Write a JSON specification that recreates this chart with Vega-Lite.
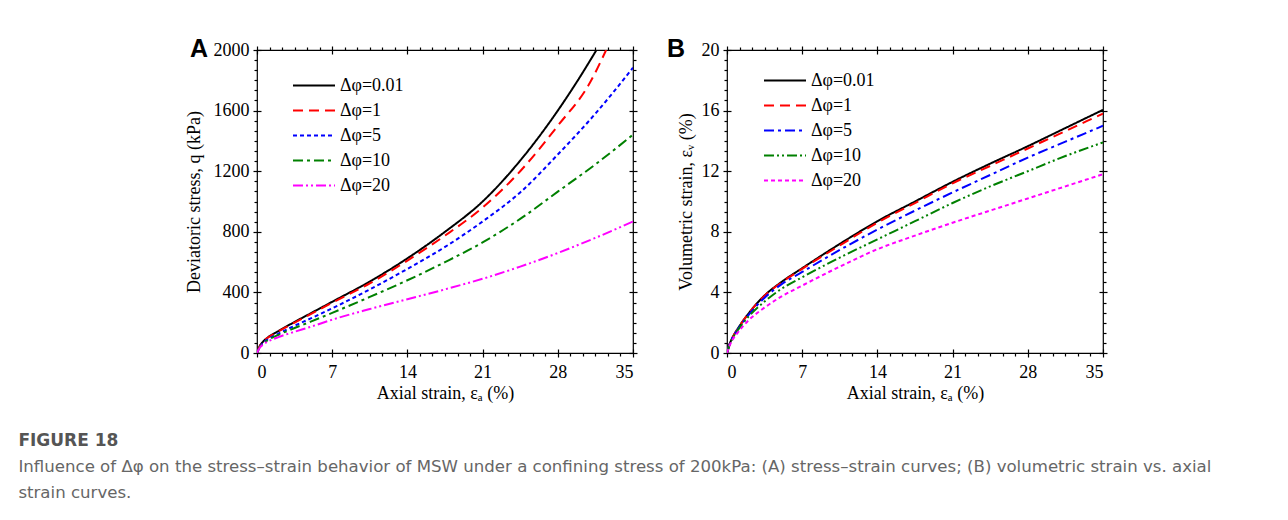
{
  "$schema": "https://vega.github.io/schema/vega-lite/v6.json",
  "background": "white",
  "padding": {"left": 18, "top": 36, "right": 5, "bottom": 5},
  "datasets": {
    "A": [
      {"x": 0, "y": 0, "s": "Δφ=0.01"}, {"x": 0.25, "y": 45, "s": "Δφ=0.01"}, {"x": 0.5, "y": 70, "s": "Δφ=0.01"}, {"x": 1, "y": 102, "s": "Δφ=0.01"}, {"x": 2, "y": 145, "s": "Δφ=0.01"}, {"x": 3.5, "y": 205, "s": "Δφ=0.01"}, {"x": 5, "y": 262, "s": "Δφ=0.01"}, {"x": 7, "y": 338, "s": "Δφ=0.01"}, {"x": 10.5, "y": 472, "s": "Δφ=0.01"}, {"x": 14, "y": 625, "s": "Δφ=0.01"}, {"x": 17.5, "y": 800, "s": "Δφ=0.01"}, {"x": 21, "y": 1000, "s": "Δφ=0.01"}, {"x": 24.5, "y": 1270, "s": "Δφ=0.01"}, {"x": 28, "y": 1600, "s": "Δφ=0.01"}, {"x": 30, "y": 1815, "s": "Δφ=0.01"}, {"x": 31.6, "y": 2000, "s": "Δφ=0.01"},
      {"x": 0, "y": 0, "s": "Δφ=1"}, {"x": 0.25, "y": 45, "s": "Δφ=1"}, {"x": 0.5, "y": 70, "s": "Δφ=1"}, {"x": 1, "y": 101, "s": "Δφ=1"}, {"x": 2, "y": 143, "s": "Δφ=1"}, {"x": 3.5, "y": 201, "s": "Δφ=1"}, {"x": 5, "y": 257, "s": "Δφ=1"}, {"x": 7, "y": 332, "s": "Δφ=1"}, {"x": 10.5, "y": 460, "s": "Δφ=1"}, {"x": 14, "y": 610, "s": "Δφ=1"}, {"x": 17.5, "y": 775, "s": "Δφ=1"}, {"x": 21, "y": 960, "s": "Δφ=1"}, {"x": 24.5, "y": 1200, "s": "Δφ=1"}, {"x": 28, "y": 1500, "s": "Δφ=1"}, {"x": 31, "y": 1785, "s": "Δφ=1"}, {"x": 32.5, "y": 2000, "s": "Δφ=1"},
      {"x": 0, "y": 0, "s": "Δφ=5"}, {"x": 0.25, "y": 40, "s": "Δφ=5"}, {"x": 0.5, "y": 62, "s": "Δφ=5"}, {"x": 1, "y": 90, "s": "Δφ=5"}, {"x": 2, "y": 128, "s": "Δφ=5"}, {"x": 3.5, "y": 180, "s": "Δφ=5"}, {"x": 5, "y": 228, "s": "Δφ=5"}, {"x": 7, "y": 295, "s": "Δφ=5"}, {"x": 10.5, "y": 420, "s": "Δφ=5"}, {"x": 14, "y": 555, "s": "Δφ=5"}, {"x": 17.5, "y": 700, "s": "Δφ=5"}, {"x": 21, "y": 868, "s": "Δφ=5"}, {"x": 24.5, "y": 1060, "s": "Δφ=5"}, {"x": 28, "y": 1310, "s": "Δφ=5"}, {"x": 31.5, "y": 1580, "s": "Δφ=5"}, {"x": 35, "y": 1883, "s": "Δφ=5"},
      {"x": 0, "y": 0, "s": "Δφ=10"}, {"x": 0.25, "y": 38, "s": "Δφ=10"}, {"x": 0.5, "y": 58, "s": "Δφ=10"}, {"x": 1, "y": 85, "s": "Δφ=10"}, {"x": 2, "y": 120, "s": "Δφ=10"}, {"x": 3.5, "y": 165, "s": "Δφ=10"}, {"x": 5, "y": 207, "s": "Δφ=10"}, {"x": 7, "y": 265, "s": "Δφ=10"}, {"x": 10.5, "y": 370, "s": "Δφ=10"}, {"x": 14, "y": 480, "s": "Δφ=10"}, {"x": 17.5, "y": 600, "s": "Δφ=10"}, {"x": 21, "y": 730, "s": "Δφ=10"}, {"x": 24.5, "y": 885, "s": "Δφ=10"}, {"x": 28, "y": 1065, "s": "Δφ=10"}, {"x": 31.5, "y": 1245, "s": "Δφ=10"}, {"x": 35, "y": 1441, "s": "Δφ=10"},
      {"x": 0, "y": 0, "s": "Δφ=20"}, {"x": 0.25, "y": 35, "s": "Δφ=20"}, {"x": 0.5, "y": 52, "s": "Δφ=20"}, {"x": 1, "y": 75, "s": "Δφ=20"}, {"x": 2, "y": 105, "s": "Δφ=20"}, {"x": 3.5, "y": 140, "s": "Δφ=20"}, {"x": 5, "y": 173, "s": "Δφ=20"}, {"x": 7, "y": 220, "s": "Δφ=20"}, {"x": 10.5, "y": 290, "s": "Δφ=20"}, {"x": 14, "y": 355, "s": "Δφ=20"}, {"x": 17.5, "y": 420, "s": "Δφ=20"}, {"x": 21, "y": 490, "s": "Δφ=20"}, {"x": 24.5, "y": 570, "s": "Δφ=20"}, {"x": 28, "y": 660, "s": "Δφ=20"}, {"x": 31.5, "y": 760, "s": "Δφ=20"}, {"x": 35, "y": 868, "s": "Δφ=20"}
    ],
    "B": [
      {"x": 0, "y": 0, "s": "Δφ=0.01"}, {"x": 0.25, "y": 0.6, "s": "Δφ=0.01"}, {"x": 0.5, "y": 1.0, "s": "Δφ=0.01"}, {"x": 1, "y": 1.6, "s": "Δφ=0.01"}, {"x": 2, "y": 2.6, "s": "Δφ=0.01"}, {"x": 3.5, "y": 3.8, "s": "Δφ=0.01"}, {"x": 5, "y": 4.65, "s": "Δφ=0.01"}, {"x": 7, "y": 5.6, "s": "Δφ=0.01"}, {"x": 10.5, "y": 7.2, "s": "Δφ=0.01"}, {"x": 14, "y": 8.7, "s": "Δφ=0.01"}, {"x": 17.5, "y": 10.0, "s": "Δφ=0.01"}, {"x": 21, "y": 11.3, "s": "Δφ=0.01"}, {"x": 24.5, "y": 12.5, "s": "Δφ=0.01"}, {"x": 28, "y": 13.65, "s": "Δφ=0.01"}, {"x": 31.5, "y": 14.85, "s": "Δφ=0.01"}, {"x": 35, "y": 16.05, "s": "Δφ=0.01"},
      {"x": 0, "y": 0, "s": "Δφ=1"}, {"x": 0.25, "y": 0.6, "s": "Δφ=1"}, {"x": 0.5, "y": 1.0, "s": "Δφ=1"}, {"x": 1, "y": 1.6, "s": "Δφ=1"}, {"x": 2, "y": 2.6, "s": "Δφ=1"}, {"x": 3.5, "y": 3.78, "s": "Δφ=1"}, {"x": 5, "y": 4.62, "s": "Δφ=1"}, {"x": 7, "y": 5.55, "s": "Δφ=1"}, {"x": 10.5, "y": 7.1, "s": "Δφ=1"}, {"x": 14, "y": 8.6, "s": "Δφ=1"}, {"x": 17.5, "y": 9.9, "s": "Δφ=1"}, {"x": 21, "y": 11.2, "s": "Δφ=1"}, {"x": 24.5, "y": 12.35, "s": "Δφ=1"}, {"x": 28, "y": 13.5, "s": "Δφ=1"}, {"x": 31.5, "y": 14.65, "s": "Δφ=1"}, {"x": 35, "y": 15.8, "s": "Δφ=1"},
      {"x": 0, "y": 0, "s": "Δφ=5"}, {"x": 0.25, "y": 0.6, "s": "Δφ=5"}, {"x": 0.5, "y": 1.0, "s": "Δφ=5"}, {"x": 1, "y": 1.55, "s": "Δφ=5"}, {"x": 2, "y": 2.5, "s": "Δφ=5"}, {"x": 3.5, "y": 3.65, "s": "Δφ=5"}, {"x": 5, "y": 4.5, "s": "Δφ=5"}, {"x": 7, "y": 5.35, "s": "Δφ=5"}, {"x": 10.5, "y": 6.8, "s": "Δφ=5"}, {"x": 14, "y": 8.15, "s": "Δφ=5"}, {"x": 17.5, "y": 9.4, "s": "Δφ=5"}, {"x": 21, "y": 10.6, "s": "Δφ=5"}, {"x": 24.5, "y": 11.75, "s": "Δφ=5"}, {"x": 28, "y": 12.9, "s": "Δφ=5"}, {"x": 31.5, "y": 13.95, "s": "Δφ=5"}, {"x": 35, "y": 15.0, "s": "Δφ=5"},
      {"x": 0, "y": 0, "s": "Δφ=10"}, {"x": 0.25, "y": 0.55, "s": "Δφ=10"}, {"x": 0.5, "y": 0.95, "s": "Δφ=10"}, {"x": 1, "y": 1.5, "s": "Δφ=10"}, {"x": 2, "y": 2.4, "s": "Δφ=10"}, {"x": 3.5, "y": 3.4, "s": "Δφ=10"}, {"x": 5, "y": 4.2, "s": "Δφ=10"}, {"x": 7, "y": 5.0, "s": "Δφ=10"}, {"x": 10.5, "y": 6.3, "s": "Δφ=10"}, {"x": 14, "y": 7.5, "s": "Δφ=10"}, {"x": 17.5, "y": 8.7, "s": "Δφ=10"}, {"x": 21, "y": 9.9, "s": "Δφ=10"}, {"x": 24.5, "y": 11.0, "s": "Δφ=10"}, {"x": 28, "y": 12.0, "s": "Δφ=10"}, {"x": 31.5, "y": 13.0, "s": "Δφ=10"}, {"x": 35, "y": 13.9, "s": "Δφ=10"},
      {"x": 0, "y": 0, "s": "Δφ=20"}, {"x": 0.25, "y": 0.5, "s": "Δφ=20"}, {"x": 0.5, "y": 0.85, "s": "Δφ=20"}, {"x": 1, "y": 1.35, "s": "Δφ=20"}, {"x": 2, "y": 2.15, "s": "Δφ=20"}, {"x": 3.5, "y": 3.0, "s": "Δφ=20"}, {"x": 5, "y": 3.7, "s": "Δφ=20"}, {"x": 7, "y": 4.45, "s": "Δφ=20"}, {"x": 10.5, "y": 5.7, "s": "Δφ=20"}, {"x": 14, "y": 6.85, "s": "Δφ=20"}, {"x": 17.5, "y": 7.75, "s": "Δφ=20"}, {"x": 21, "y": 8.6, "s": "Δφ=20"}, {"x": 24.5, "y": 9.4, "s": "Δφ=20"}, {"x": 28, "y": 10.2, "s": "Δφ=20"}, {"x": 31.5, "y": 11.0, "s": "Δφ=20"}, {"x": 35, "y": 11.8, "s": "Δφ=20"}
    ]
  },
  "title": {
    "text": "FIGURE 18",
    "subtitle": ["Influence of Δφ on the stress–strain behavior of MSW under a confining stress of 200kPa: (A) stress–strain curves; (B) volumetric strain vs. axial", "strain curves."],
    "orient": "bottom",
    "anchor": "start",
    "frame": "bounds",
    "dx": -166,
    "offset": 30,
    "font": "DejaVu Sans",
    "fontSize": 17,
    "fontWeight": "bold",
    "color": "#555555",
    "subtitleFont": "DejaVu Sans",
    "subtitleFontSize": 16.6,
    "subtitleColor": "#666666",
    "subtitleLineHeight": 26,
    "subtitlePadding": 9
  },
  "hconcat": [
    {
      "width": 376,
      "height": 303,
      "data": {"name": "A"},
      "title": {"text": "A", "anchor": "start", "frame": "group", "dx": -67, "dy": 21, "offset": 0, "font": "Liberation Sans", "fontSize": 25, "fontWeight": "bold", "color": "#000000"},
      "layer": [
        {
          "mark": {"type": "line", "strokeWidth": 2, "clip": true, "interpolate": "monotone"},
          "encoding": {
            "x": {"field": "x", "type": "quantitative", "scale": {"domain": [0, 35], "nice": false, "zero": false},
              "axis": {"orient": "bottom", "values": [0, 7, 14, 21, 28, 35], "format": "d", "tickSize": 8, "offset": -4, "labelPadding": 6, "title": "Axial strain, εₐ (%)", "titlePadding": 3}},
            "y": {"field": "y", "type": "quantitative", "scale": {"domain": [0, 2000], "nice": false},
              "axis": {"orient": "left", "values": [0, 400, 800, 1200, 1600, 2000], "format": "d", "tickSize": 8, "offset": -4, "labelPadding": 4, "title": "Deviatoric stress, q (kPa)", "titlePadding": 10}},
            "color": {"field": "s", "type": "nominal",
              "scale": {"domain": ["Δφ=0.01", "Δφ=1", "Δφ=5", "Δφ=10", "Δφ=20"], "range": ["#000000", "#ff0000", "#0000ff", "#008000", "#ff00ff"]},
              "legend": {"title": null, "orient": "none", "legendX": 35, "legendY": 24, "padding": 0, "symbolType": "M-1,0H3", "symbolSize": 441, "symbolStrokeWidth": 2, "labelOffset": 25, "labelFont": "Liberation Serif", "labelFontSize": 18, "labelColor": "#000000", "rowPadding": 4}},
            "strokeDash": {"field": "s", "type": "nominal",
              "scale": {"domain": ["Δφ=0.01", "Δφ=1", "Δφ=5", "Δφ=10", "Δφ=20"], "range": [[1, 0], [10, 6], [4, 3], [10, 4, 3, 4], [10, 3, 2, 3, 2, 3]]},
              "legend": {"title": null, "orient": "none", "legendX": 35, "legendY": 24, "padding": 0, "symbolType": "M-1,0H3", "symbolSize": 441, "symbolStrokeWidth": 2, "labelOffset": 25, "labelFont": "Liberation Serif", "labelFontSize": 18, "labelColor": "#000000", "rowPadding": 4}}
          }
        },
        {
          "mark": {"type": "point", "opacity": 0},
          "encoding": {
            "x": {"field": "x", "type": "quantitative", "scale": {"domain": [0, 35], "nice": false, "zero": false},
              "axis": {"orient": "bottom", "values": [1.16667, 2.33333, 3.5, 4.66667, 5.83333, 8.16667, 9.33333, 10.5, 11.66667, 12.83333, 15.16667, 16.33333, 17.5, 18.66667, 19.83333, 22.16667, 23.33333, 24.5, 25.66667, 26.83333, 29.16667, 30.33333, 31.5, 32.66667, 33.83333], "tickSize": 3, "labels": false, "title": null}},
            "y": {"field": "y", "type": "quantitative", "scale": {"domain": [0, 2000], "nice": false},
              "axis": {"orient": "left", "values": [66.667, 133.333, 200, 266.667, 333.333, 466.667, 533.333, 600, 666.667, 733.333, 866.667, 933.333, 1000, 1066.667, 1133.333, 1266.667, 1333.333, 1400, 1466.667, 1533.333, 1666.667, 1733.333, 1800, 1866.667, 1933.333], "tickSize": 3, "labels": false, "title": null}}
          }
        },
        {
          "mark": {"type": "point", "opacity": 0},
          "encoding": {
            "x": {"field": "x", "type": "quantitative", "scale": {"domain": [0, 35], "nice": false, "zero": false},
              "axis": {"orient": "top", "values": [0, 7, 14, 21, 28, 35], "tickSize": 8, "offset": -4, "labels": false, "title": null}},
            "y": {"field": "y", "type": "quantitative", "scale": {"domain": [0, 2000], "nice": false},
              "axis": {"orient": "right", "values": [0, 400, 800, 1200, 1600, 2000], "tickSize": 8, "offset": -4, "labels": false, "title": null}}
          }
        },
        {
          "mark": {"type": "point", "opacity": 0},
          "encoding": {
            "x": {"field": "x", "type": "quantitative", "scale": {"domain": [0, 35], "nice": false, "zero": false},
              "axis": {"orient": "top", "values": [1.16667, 2.33333, 3.5, 4.66667, 5.83333, 8.16667, 9.33333, 10.5, 11.66667, 12.83333, 15.16667, 16.33333, 17.5, 18.66667, 19.83333, 22.16667, 23.33333, 24.5, 25.66667, 26.83333, 29.16667, 30.33333, 31.5, 32.66667, 33.83333], "tickSize": 3, "labels": false, "title": null}},
            "y": {"field": "y", "type": "quantitative", "scale": {"domain": [0, 2000], "nice": false},
              "axis": {"orient": "right", "values": [66.667, 133.333, 200, 266.667, 333.333, 466.667, 533.333, 600, 666.667, 733.333, 866.667, 933.333, 1000, 1066.667, 1133.333, 1266.667, 1333.333, 1400, 1466.667, 1533.333, 1666.667, 1733.333, 1800, 1866.667, 1933.333], "tickSize": 3, "labels": false, "title": null}}
          }
        }
      ],
      "resolve": {"axis": {"x": "independent", "y": "independent"}}
    },
    {
      "width": 376,
      "height": 303,
      "data": {"name": "B"},
      "title": {"text": "B", "anchor": "start", "frame": "group", "dx": -60, "dy": 21, "offset": 0, "font": "Liberation Sans", "fontSize": 25, "fontWeight": "bold", "color": "#000000"},
      "layer": [
        {
          "mark": {"type": "line", "strokeWidth": 2, "clip": true, "interpolate": "monotone"},
          "encoding": {
            "x": {"field": "x", "type": "quantitative", "scale": {"domain": [0, 35], "nice": false, "zero": false},
              "axis": {"orient": "bottom", "values": [0, 7, 14, 21, 28, 35], "format": "d", "tickSize": 8, "offset": -4, "labelPadding": 6, "title": "Axial strain, εₐ (%)", "titlePadding": 3}},
            "y": {"field": "y", "type": "quantitative", "scale": {"domain": [0, 20], "nice": false},
              "axis": {"orient": "left", "values": [0, 4, 8, 12, 16, 20], "format": "d", "tickSize": 8, "offset": -4, "labelPadding": 4, "title": "Volumetric strain, εᵥ (%)", "titlePadding": 6}},
            "color": {"field": "s", "type": "nominal",
              "scale": {"domain": ["Δφ=0.01", "Δφ=1", "Δφ=5", "Δφ=10", "Δφ=20"], "range": ["#000000", "#ff0000", "#0000ff", "#008000", "#ff00ff"]},
              "legend": {"title": null, "orient": "none", "legendX": 36, "legendY": 19, "padding": 0, "symbolType": "M-1,0H3", "symbolSize": 441, "symbolStrokeWidth": 2, "labelOffset": 25, "labelFont": "Liberation Serif", "labelFontSize": 18, "labelColor": "#000000", "rowPadding": 4}},
            "strokeDash": {"field": "s", "type": "nominal",
              "scale": {"domain": ["Δφ=0.01", "Δφ=1", "Δφ=5", "Δφ=10", "Δφ=20"], "range": [[1, 0], [10, 6], [10, 4, 3, 4], [10, 3, 2, 3, 2, 3], [4, 3]]},
              "legend": {"title": null, "orient": "none", "legendX": 36, "legendY": 19, "padding": 0, "symbolType": "M-1,0H3", "symbolSize": 441, "symbolStrokeWidth": 2, "labelOffset": 25, "labelFont": "Liberation Serif", "labelFontSize": 18, "labelColor": "#000000", "rowPadding": 4}}
          }
        },
        {
          "mark": {"type": "point", "opacity": 0},
          "encoding": {
            "x": {"field": "x", "type": "quantitative", "scale": {"domain": [0, 35], "nice": false, "zero": false},
              "axis": {"orient": "bottom", "values": [1.16667, 2.33333, 3.5, 4.66667, 5.83333, 8.16667, 9.33333, 10.5, 11.66667, 12.83333, 15.16667, 16.33333, 17.5, 18.66667, 19.83333, 22.16667, 23.33333, 24.5, 25.66667, 26.83333, 29.16667, 30.33333, 31.5, 32.66667, 33.83333], "tickSize": 3, "labels": false, "title": null}},
            "y": {"field": "y", "type": "quantitative", "scale": {"domain": [0, 20], "nice": false},
              "axis": {"orient": "left", "values": [0.6667, 1.3333, 2, 2.6667, 3.3333, 4.6667, 5.3333, 6, 6.6667, 7.3333, 8.6667, 9.3333, 10, 10.6667, 11.3333, 12.6667, 13.3333, 14, 14.6667, 15.3333, 16.6667, 17.3333, 18, 18.6667, 19.3333], "tickSize": 3, "labels": false, "title": null}}
          }
        },
        {
          "mark": {"type": "point", "opacity": 0},
          "encoding": {
            "x": {"field": "x", "type": "quantitative", "scale": {"domain": [0, 35], "nice": false, "zero": false},
              "axis": {"orient": "top", "values": [0, 7, 14, 21, 28, 35], "tickSize": 8, "offset": -4, "labels": false, "title": null}},
            "y": {"field": "y", "type": "quantitative", "scale": {"domain": [0, 20], "nice": false},
              "axis": {"orient": "right", "values": [0, 4, 8, 12, 16, 20], "tickSize": 8, "offset": -4, "labels": false, "title": null}}
          }
        },
        {
          "mark": {"type": "point", "opacity": 0},
          "encoding": {
            "x": {"field": "x", "type": "quantitative", "scale": {"domain": [0, 35], "nice": false, "zero": false},
              "axis": {"orient": "top", "values": [1.16667, 2.33333, 3.5, 4.66667, 5.83333, 8.16667, 9.33333, 10.5, 11.66667, 12.83333, 15.16667, 16.33333, 17.5, 18.66667, 19.83333, 22.16667, 23.33333, 24.5, 25.66667, 26.83333, 29.16667, 30.33333, 31.5, 32.66667, 33.83333], "tickSize": 3, "labels": false, "title": null}},
            "y": {"field": "y", "type": "quantitative", "scale": {"domain": [0, 20], "nice": false},
              "axis": {"orient": "right", "values": [0.6667, 1.3333, 2, 2.6667, 3.3333, 4.6667, 5.3333, 6, 6.6667, 7.3333, 8.6667, 9.3333, 10, 10.6667, 11.3333, 12.6667, 13.3333, 14, 14.6667, 15.3333, 16.6667, 17.3333, 18, 18.6667, 19.3333], "tickSize": 3, "labels": false, "title": null}}
          }
        }
      ],
      "resolve": {"axis": {"x": "independent", "y": "independent"}}
    }
  ],
  "spacing": 27,
  "resolve": {"scale": {"color": "independent", "strokeDash": "independent"}},
  "config": {
    "font": "Liberation Serif",
    "view": {"stroke": "#000000", "strokeWidth": 1.2},
    "axis": {"grid": false, "domain": false, "tickColor": "#000000", "tickWidth": 1.2, "labelFont": "Liberation Serif", "labelFontSize": 18, "labelColor": "#000000", "titleFont": "Liberation Serif", "titleFontSize": 18, "titleFontWeight": "normal", "titleColor": "#000000"}
  }
}
